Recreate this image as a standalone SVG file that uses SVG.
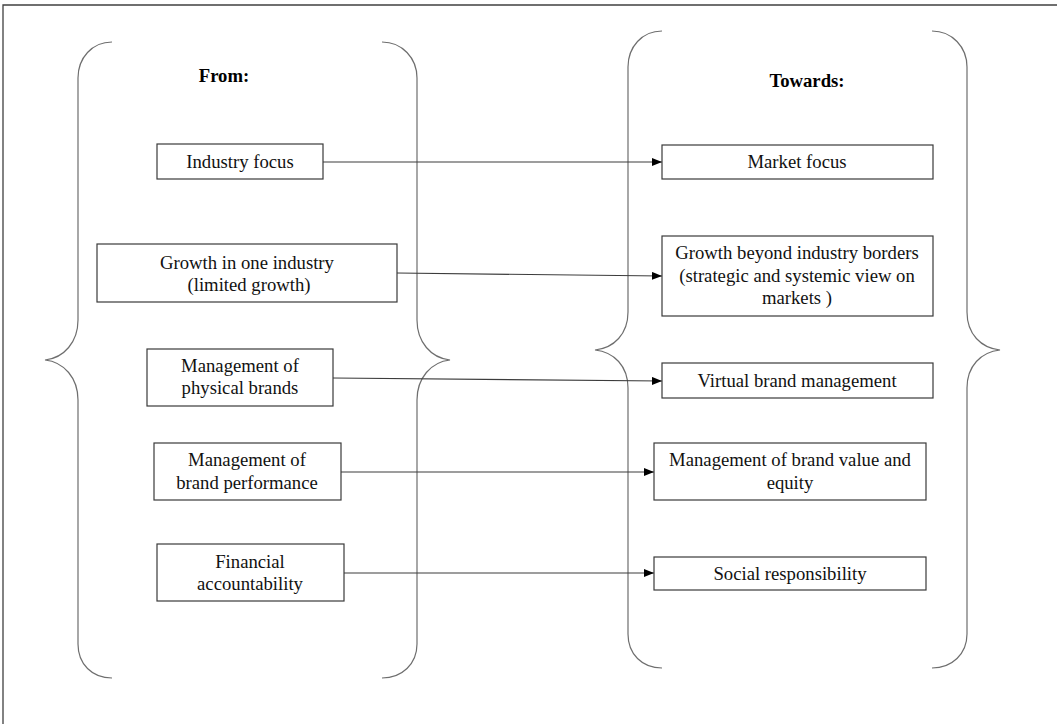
<svg xmlns="http://www.w3.org/2000/svg" width="1058" height="724" viewBox="0 0 1058 724">
<style>
.frame{stroke:#404040;stroke-width:1.3;fill:none}
.brace{stroke:#6e6e6e;stroke-width:1.2;fill:none}
.box{fill:#fff;stroke:#3a3a3a;stroke-width:1.2}
.t{font-family:"Liberation Serif","Times New Roman",serif;font-size:18.7px;fill:#111;text-anchor:middle}
.h{font-family:"Liberation Serif","Times New Roman",serif;font-size:18.7px;font-weight:bold;fill:#000;text-anchor:middle}
.conn{stroke:#3c3c3c;stroke-width:1.2;fill:none}
</style>
<defs>
<marker id="ah" markerWidth="10" markerHeight="8" refX="10" refY="4" orient="auto" markerUnits="userSpaceOnUse">
<path d="M0,0 L10,4 L0,8 Z" fill="#000"/>
</marker>
</defs>
<rect width="1058" height="724" fill="#fff"/>
<path class="frame" d="M3,724 V5 H1057"/>
<g id="braces">
<path class="brace" d="M112,42 C92,42 78,58 78,78 V320 C78,342 64,358 45,360 C64,362 78,378 78,400 V644 C78,664 92,678 112,678"/>
<path class="brace" d="M382,42 C402,42 417,58 417,78 V320 C417,342 431,358 450,360 C431,362 417,378 417,400 V644 C417,664 402,678 382,678"/>
<path class="brace" d="M662,31 C642,31 628,47 628,67 V312 C628,334 614,348 595,350 C614,352 628,366 628,388 V634 C628,654 642,668 662,668"/>
<path class="brace" d="M932,31 C952,31 967,47 967,67 V312 C967,334 981,348 1000,350 C981,352 967,366 967,388 V634 C967,654 952,668 932,668"/>
</g>
<g id="headers">
<text class="h" x="224" y="82">From:</text>
<text class="h" x="807" y="87">Towards:</text>
</g>
<g id="connectors">
<line class="conn" x1="323" y1="162" x2="662" y2="162" marker-end="url(#ah)"/>
<line class="conn" x1="397" y1="273" x2="662" y2="276" marker-end="url(#ah)"/>
<line class="conn" x1="333" y1="378" x2="662" y2="381" marker-end="url(#ah)"/>
<line class="conn" x1="341" y1="472" x2="654" y2="472" marker-end="url(#ah)"/>
<line class="conn" x1="344" y1="573" x2="654" y2="573" marker-end="url(#ah)"/>
</g>
<g id="from-industry-focus">
<rect class="box" x="157" y="144" width="166" height="35"/>
<text class="t" x="240" y="168">Industry focus</text>
</g>
<g id="from-growth-one-industry">
<rect class="box" x="97" y="244" width="300" height="58"/>
<text class="t" x="247" y="269">Growth in one industry</text>
<text class="t" x="249" y="291">(limited growth)</text>
</g>
<g id="from-physical-brands">
<rect class="box" x="147" y="349" width="186" height="57"/>
<text class="t" x="240" y="372">Management of</text>
<text class="t" x="240" y="394">physical brands</text>
</g>
<g id="from-brand-performance">
<rect class="box" x="154" y="443" width="187" height="57"/>
<text class="t" x="247" y="466">Management of</text>
<text class="t" x="247" y="489">brand performance</text>
</g>
<g id="from-financial">
<rect class="box" x="157" y="544" width="187" height="57"/>
<text class="t" x="250" y="568">Financial</text>
<text class="t" x="250" y="590">accountability</text>
</g>
<g id="to-market-focus">
<rect class="box" x="662" y="145" width="271" height="34"/>
<text class="t" x="797" y="168">Market focus</text>
</g>
<g id="to-growth-beyond">
<rect class="box" x="662" y="236" width="271" height="80"/>
<text class="t" x="797" y="259">Growth beyond industry borders</text>
<text class="t" x="797" y="282">(strategic and systemic view on</text>
<text class="t" x="797" y="304">markets )</text>
</g>
<g id="to-virtual-brand">
<rect class="box" x="662" y="363" width="271" height="35"/>
<text class="t" x="797" y="387">Virtual brand management</text>
</g>
<g id="to-brand-value">
<rect class="box" x="654" y="443" width="272" height="57"/>
<text class="t" x="790" y="466">Management of brand value and</text>
<text class="t" x="790" y="489">equity</text>
</g>
<g id="to-social">
<rect class="box" x="654" y="557" width="272" height="33"/>
<text class="t" x="790" y="580">Social responsibility</text>
</g>
</svg>
